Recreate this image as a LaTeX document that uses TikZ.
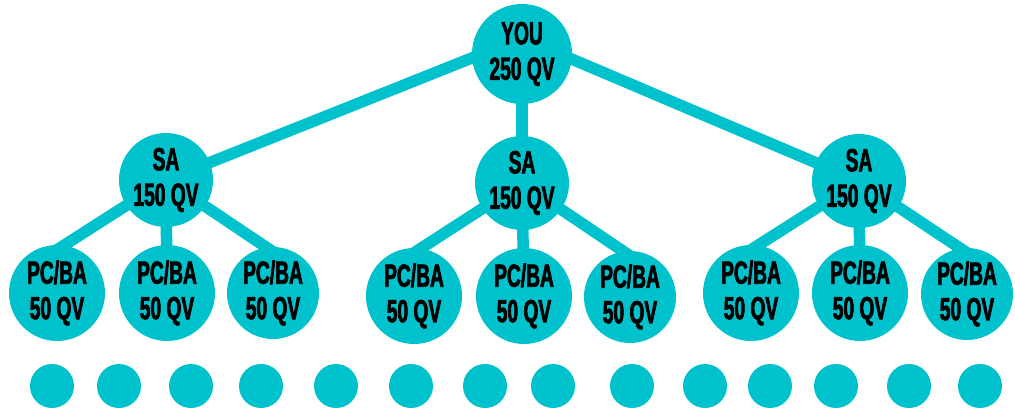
\documentclass[tikz,border=0pt]{standalone}
\usepackage{fontspec}
\newfontfamily\condfont{Liberation Sans Bold}[FakeStretch=0.6,FakeBold=2]
\usetikzlibrary{backgrounds}
\definecolor{teal1}{RGB}{0,194,204}
\tikzset{
  ball/.style={circle,fill=teal1,inner sep=0pt,align=center,text=black,
    font=\condfont\fontsize{32}{35.5}\selectfont},
  big/.style={ball,minimum size=100pt},
  mid/.style={ball,minimum size=94pt},
  leaf/.style={ball,minimum size=96pt},
  leafs/.style={ball,minimum size=92pt},
  dot/.style={circle,fill=teal1,inner sep=0pt,minimum size=44pt},
  link/.style={draw=teal1,line width=11.5pt}
}
\begin{document}
\begin{tikzpicture}[x=1pt,y=-1pt]
\useasboundingbox (0,0) rectangle (1015,409);
\node[big] (you) at (522,54) {YOU\\250 QV};
\node[mid] (sa1) at (166,180) {SA\\150 QV};
\node[mid] (sa2) at (522,183) {SA\\150 QV};
\node[mid] (sa3) at (859,181) {SA\\150 QV};
\node[leaf]  (p1) at (57,293)  {PC/BA\\50 QV};
\node[leaf]  (p2) at (167,293) {PC/BA\\50 QV};
\node[leafs] (p3) at (273,293) {PC/BA\\50 QV};
\node[leaf]  (p4) at (414,296) {PC/BA\\50 QV};
\node[leaf]  (p5) at (524,296) {PC/BA\\50 QV};
\node[leafs] (p6) at (630,297) {PC/BA\\50 QV};
\node[leaf]  (p7) at (751,293) {PC/BA\\50 QV};
\node[leaf]  (p8) at (860,293) {PC/BA\\50 QV};
\node[leafs] (p9) at (967,294) {PC/BA\\50 QV};
\foreach \x [count=\i] in {52,119,191,261,336,411,485,553,632,705,770,836,909,980}
  \node[dot] (d\i) at (\x,386) {};
\begin{pgfonlayer}{background}
\draw[link] ([yshift=16pt]you.center) -- (sa1.center);
\draw[link] (you.center) -- (sa2.center);
\draw[link] ([yshift=16pt]you.center) -- (sa3.center);
\foreach \s/\a/\b/\c in {sa1/p1/p2/p3,sa2/p4/p5/p6,sa3/p7/p8/p9}{
  \draw[link] (\s.center) -- ([yshift=-5pt]\a.north);
  \draw[link] (\s.center) -- (\b.center);
  \draw[link] (\s.center) -- ([yshift=-5pt]\c.north);
}
\end{pgfonlayer}
\end{tikzpicture}
\end{document}
